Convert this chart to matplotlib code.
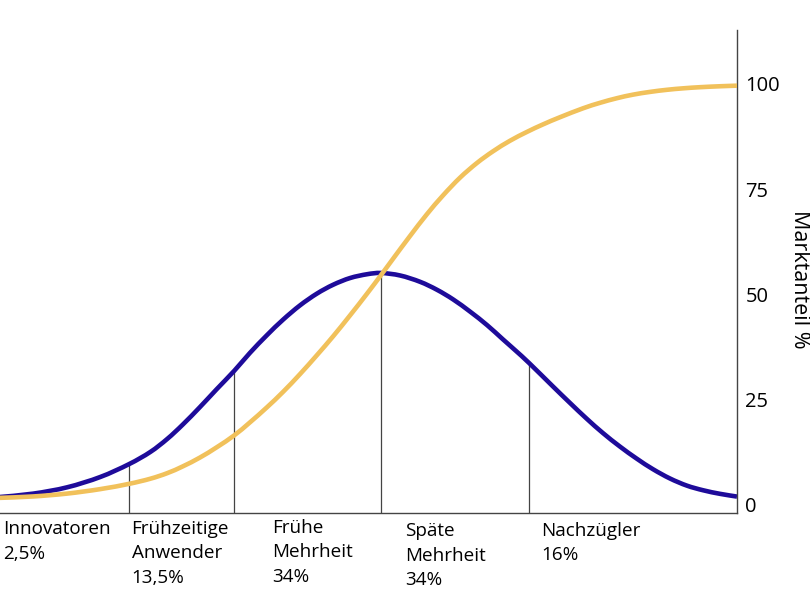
import numpy as np
import matplotlib.pyplot as plt
from matplotlib.path import Path
from matplotlib.patches import PathPatch

# adoption curve (blue), x = time (0..100), y = %
blue_x = [0, 4.5, 9.1, 13.6, 17.5, 20.4, 22.7, 24.8, 27.1, 29.4, 31.8, 33.9,
          36.2, 38.4, 40.7, 43.0, 45.2, 47.5, 49.8, 51.7, 54.3, 57.0, 59.3,
          61.5, 63.8, 66.1, 68.2, 70.0, 71.8, 75.0, 77.3, 79.6, 81.8, 84.1,
          86.4, 88.6, 90.9, 93.2, 95.4, 97.7, 100]
blue_y = [1.9, 2.7, 4.2, 6.65, 9.7, 12.6, 15.7, 19.1, 23.2, 27.5, 31.9, 36.1,
          40.3, 44.0, 47.4, 50.2, 52.3, 53.9, 54.8, 55.1, 54.5, 53.0, 51.1,
          48.8, 45.9, 42.7, 39.4, 36.6, 33.7, 28.2, 24.3, 20.5, 17.1, 13.9,
          11.0, 8.5, 6.3, 4.6, 3.5, 2.65, 2.0]

# market share (yellow S-curve)
yel_x = [0, 4.5, 9.1, 13.6, 17.5, 20.4, 22.7, 24.8, 27.1, 29.4, 31.8, 33.9,
         36.2, 38.4, 40.7, 43.0, 45.2, 47.5, 49.8, 51.7, 53.3, 55.6, 57.9,
         60.1, 62.4, 64.7, 66.9, 69.2, 71.5, 73.7, 76.0, 79.1, 81.4, 83.7,
         85.9, 88.2, 90.5, 92.7, 95.0, 97.7, 100]
yel_y = [1.7, 2.03, 2.71, 3.77, 5.02, 6.24, 7.57, 9.17, 11.24, 13.7, 16.56,
         19.6, 23.17, 26.85, 31.07, 35.58, 40.06, 45.04, 50.19, 54.6, 58.4,
         63.8, 69.0, 73.5, 77.7, 81.2, 84.0, 86.5, 88.6, 90.4, 92.1, 94.2,
         95.5, 96.6, 97.45, 98.1, 98.6, 98.95, 99.22, 99.44, 99.58]

# group boundaries
split_x = [17.5, 31.8, 51.7, 71.8]

groups = ["Innovatoren\n2,5%", "Frühzeitige\nAnwender\n13,5%",
          "Frühe\nMehrheit\n34%", "Späte\nMehrheit\n34%", "Nachzügler\n16%"]
# label placement in pixels (left, top)
group_pos = [(3, 520.5), (131.5, 520), (272.5, 519), (405, 522.5),
             (541, 521.5)]

yticks = [0, 25, 50, 75, 100]


def smooth_path(xs, ys):
    """ catmull-rom through the read points, as cubic bezier segments """
    p = np.column_stack([xs, ys]).astype(float)
    p = np.vstack([p[0], p, p[-1]])
    verts = [p[1]]
    codes = [Path.MOVETO]
    for i in range(1, len(p) - 2):
        c1 = p[i] + (p[i + 1] - p[i - 1]) / 6.0
        c2 = p[i + 1] - (p[i + 2] - p[i]) / 6.0
        verts += [c1, c2, p[i + 1]]
        codes += [Path.CURVE4] * 3
    return Path(verts, codes)


plt.rcParams['font.family'] = ['Open Sans', 'DejaVu Sans']

W, H = 810, 608
fig = plt.figure(figsize=(W / 100, H / 100), dpi=100)
ax = fig.add_axes([0, 1 - 513 / H, 737 / W, (513 - 30) / H])

blue = '#1e0b9a'
yellow = '#f1c15b'

heights = np.interp(split_x, blue_x, blue_y)
ax.vlines(split_x, -1.9, heights, color='#444444', lw=0.9, zorder=1)
ax.add_patch(PathPatch(smooth_path(blue_x, blue_y), fill=False,
                       edgecolor=blue, lw=3.3, zorder=2))
ax.add_patch(PathPatch(smooth_path(yel_x, yel_y), fill=False,
                       edgecolor=yellow, lw=3.3, zorder=3))

ax.set_xlim(0, 100)
ax.set_ylim(-1.9, 112.8)
ax.set_xticks([])
ax.yaxis.tick_right()
ax.set_yticks(yticks)
ax.set_yticklabels([str(t) for t in yticks])
ax.tick_params(axis='y', length=0, pad=6, labelsize=14.5, colors='black')

for side in ['top', 'left']:
    ax.spines[side].set_visible(False)
for side in ['right', 'bottom']:
    ax.spines[side].set_color('#444444')
    ax.spines[side].set_linewidth(1.0)

fig.text(799 / W, 1 - 279 / H, 'Marktanteil %', rotation=270, ha='center',
         va='center', fontsize=15.5)

for txt, (px, py) in zip(groups, group_pos):
    fig.text(px / W, 1 - py / H, txt, ha='left', va='top',
             fontsize=13.6, linespacing=1.45)

fig.savefig('out.png', dpi=100)
